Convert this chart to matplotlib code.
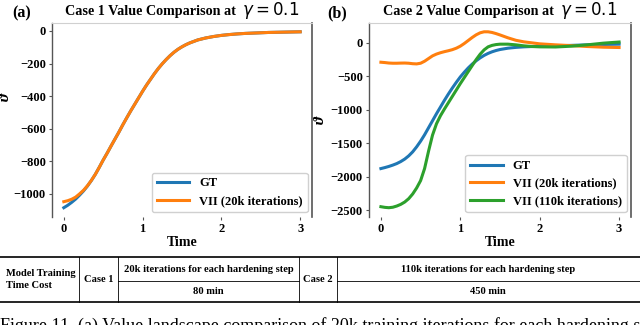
import matplotlib
matplotlib.use("Agg")
import matplotlib.pyplot as plt
from matplotlib.lines import Line2D
from matplotlib.offsetbox import TextArea, HPacker, AnchoredOffsetbox

# ---------------- data ----------------
t1 = [0.0, 0.05, 0.1, 0.15, 0.2, 0.25, 0.3, 0.35, 0.4, 0.45, 0.5, 0.55, 0.6, 0.65, 0.7,
      0.75, 0.8, 0.85, 0.9, 0.95, 1.0, 1.05, 1.1, 1.15, 1.2, 1.25, 1.3, 1.35, 1.4, 1.45,
      1.5, 1.55, 1.6, 1.7, 1.8, 1.9, 2.0, 2.1, 2.2, 2.3, 2.4, 2.5, 2.6, 2.7, 2.8, 2.9, 3.0]
case1_gt = [-1085, -1070, -1052, -1032, -1008, -982, -952, -918, -880, -837, -792, -750,
            -706, -663, -620, -575, -532, -490, -450, -410, -370, -332, -297, -262, -230,
            -201, -175, -151, -130, -112, -97, -84, -73, -55, -43, -34, -27, -22, -18,
            -15, -13, -11, -9, -8, -7, -6, -5]
case1_vii20k = [-1048, -1042, -1033, -1020, -1000, -978, -950, -917, -880, -837, -792,
                -750, -706, -663, -620, -575, -532, -490, -450, -410, -370, -332, -297,
                -262, -230, -201, -175, -151, -130, -112, -97, -84, -73, -55, -43, -34,
                -27, -22, -18, -15, -13, -11, -9, -8, -7, -6, -5]

t2 = [0.0, 0.05, 0.1, 0.15, 0.2, 0.25, 0.3, 0.35, 0.4, 0.45, 0.5, 0.55, 0.6, 0.65, 0.7,
      0.75, 0.8, 0.85, 0.9, 0.95, 1.0, 1.05, 1.1, 1.15, 1.2, 1.25, 1.3, 1.35, 1.4, 1.45,
      1.5, 1.6, 1.7, 1.8, 1.9, 2.0, 2.2, 2.4, 2.6, 2.8, 3.0]
case2_gt = [-1880, -1865, -1848, -1828, -1805, -1775, -1738, -1690, -1630, -1555, -1470,
            -1375, -1270, -1165, -1060, -960, -860, -765, -675, -590, -510, -440, -375,
            -318, -268, -225, -188, -158, -134, -115, -100, -80, -68, -60, -55, -52, -45,
            -38, -30, -25, -20]
case2_vii20k = [-290, -295, -302, -305, -305, -303, -302, -305, -312, -315, -305, -275,
                -235, -195, -168, -148, -132, -118, -102, -80, -50, -10, 35, 80, 120, 150,
                165, 165, 155, 138, 118, 75, 38, 15, 0, -15, -30, -42, -55, -65, -70]
case2_vii110k = [-2450, -2460, -2465, -2458, -2440, -2415, -2380, -2330, -2260, -2170,
                 -2060, -1880, -1620, -1380, -1210, -1090, -990, -895, -800, -705, -610,
                 -520, -430, -340, -250, -170, -105, -60, -38, -26, -20, -20, -30, -45,
                 -55, -60, -62, -50, -30, -5, 12]

x_ticks = [0, 1, 2, 3]
y_ticks1 = [0, -200, -400, -600, -800, -1000]
y_ticks2 = [0, -500, -1000, -1500, -2000, -2500]
title_text1 = "Case 1 Value Comparison at"
title_text2 = "Case 2 Value Comparison at"
title_math = r"$\gamma = 0.1$"
legend1 = ["GT", "VII (20k iterations)"]
legend2 = ["GT", "VII (20k iterations)", "VII (110k iterations)"]

table_texts = {
    "label": "Model Training\nTime Cost",
    "case1": "Case 1",
    "c1_iter": "20k iterations for each hardening step",
    "c1_time": "80 min",
    "case2": "Case 2",
    "c2_iter": "110k iterations for each hardening step",
    "c2_time": "450 min",
}
caption = ("Figure 11. (a) Value landscape comparison of 20k training iterations for each "
           "hardening step")

# ---------------- style ----------------
SERIF = ["Liberation Serif", "DejaVu Serif"]
plt.rcParams["font.family"] = SERIF

W, H = 640, 325
fig = plt.figure(figsize=(6.4, 3.25), dpi=100)


def fx(px):
    return px / W


def fy(py):
    return 1 - py / H


ax1 = fig.add_axes([fx(52), fy(216.5), fx(260), (216.5 - 23) / H])
ax2 = fig.add_axes([fx(369), fy(216.5), fx(262), (216.5 - 23) / H])

colors = ["#1f77b4", "#ff7f0e", "#2ca02c"]
LW = 2.2

ax1.plot(t1, case1_gt, color=colors[0], lw=LW, label=legend1[0])
ax1.plot(t1, case1_vii20k, color=colors[1], lw=LW, label=legend1[1])
ax2.plot(t2, case2_gt, color=colors[0], lw=LW, label=legend2[0])
ax2.plot(t2, case2_vii20k, color=colors[1], lw=LW, label=legend2[1])
ax2.plot(t2, case2_vii110k, color=colors[2], lw=LW, label=legend2[2])

ax1.set_yticks(y_ticks1)
ax2.set_yticks(y_ticks2)

for ax, ttext, ylab_pos in ((ax1, title_text1, (-0.154, 0.62)),
                            (ax2, title_text2, (-0.16, 0.5))):
    ax.set_xticks(x_ticks)
    ta1 = TextArea(ttext, textprops=dict(fontsize=10.2, fontweight="bold", family=SERIF))
    ta2 = TextArea(title_math, textprops=dict(fontsize=12, fontweight="normal"))
    box = HPacker(children=[ta1, ta2], align="baseline", pad=0, sep=4)
    anch = AnchoredOffsetbox(loc="lower center", child=box, pad=0, frameon=False,
                             bbox_to_anchor=(0.5, 1.0), bbox_transform=ax.transAxes,
                             borderpad=0.15)
    ax.add_artist(anch)
    ax.set_xlabel("Time", fontsize=10, fontweight="bold", labelpad=1)
    ax.set_ylabel("ϑ", fontsize=11, fontstyle="italic", fontweight="bold")
    ax.yaxis.set_label_coords(*ylab_pos)
    ax.tick_params(labelsize=9, length=2.5, width=0.8, pad=2, color="#555555")
    for lab in ax.get_xticklabels() + ax.get_yticklabels():
        lab.set_fontweight("bold")
    ax.spines["bottom"].set_visible(False)
    ax.spines["top"].set_color("#d0d0d0")
    ax.spines["top"].set_linewidth(0.8)
    ax.spines["left"].set_color("#555555")
    ax.spines["right"].set_color("#555555")
    ax.spines["left"].set_linewidth(1.0)
    ax.spines["right"].set_linewidth(1.2)
    ax.legend(loc="lower right", prop={"family": SERIF, "weight": "bold", "size": 9},
              handlelength=2.6, borderaxespad=0.35, labelspacing=0.45,
              framealpha=1.0, edgecolor="#d0d0d0", fancybox=True)

fig.text(fx(12), fy(13), "(a)", fontsize=11.5, fontweight="bold", va="center", ha="left")
fig.text(fx(327), fy(13), "(b)", fontsize=11.5, fontweight="bold", va="center", ha="left")


# ---------------- table ----------------
def hline(x0, x1, y, lw):
    fig.add_artist(Line2D([fx(x0), fx(x1)], [fy(y), fy(y)], transform=fig.transFigure,
                          color="black", lw=lw))


def vline(x, y0, y1, lw):
    fig.add_artist(Line2D([fx(x), fx(x)], [fy(y0), fy(y1)], transform=fig.transFigure,
                          color="black", lw=lw))


hline(0, 640, 257, 1.2)
hline(0, 640, 302, 1.2)
hline(118, 299, 281, 0.6)
hline(337, 640, 281, 0.6)
for xv in (79, 118, 299, 337):
    vline(xv, 257, 302, 0.6)

tfs = 7.6
fig.text(fx(6), fy(279.5), table_texts["label"], fontsize=tfs, fontweight="bold",
         ha="left", va="center", linespacing=1.45)
fig.text(fx(98.5), fy(280), table_texts["case1"], fontsize=tfs, fontweight="bold",
         ha="center", va="center")
fig.text(fx(208.5), fy(269), table_texts["c1_iter"], fontsize=tfs, fontweight="bold",
         ha="center", va="center")
fig.text(fx(208.5), fy(292), table_texts["c1_time"], fontsize=tfs, fontweight="bold",
         ha="center", va="center")
fig.text(fx(318), fy(280), table_texts["case2"], fontsize=tfs, fontweight="bold",
         ha="center", va="center")
fig.text(fx(488), fy(269), table_texts["c2_iter"], fontsize=tfs, fontweight="bold",
         ha="center", va="center")
fig.text(fx(488), fy(292), table_texts["c2_time"], fontsize=tfs, fontweight="bold",
         ha="center", va="center")

fig.text(fx(0), fy(331), caption, fontsize=13, fontweight="normal", ha="left",
         va="baseline")

fig.savefig("out.png", dpi=100)
